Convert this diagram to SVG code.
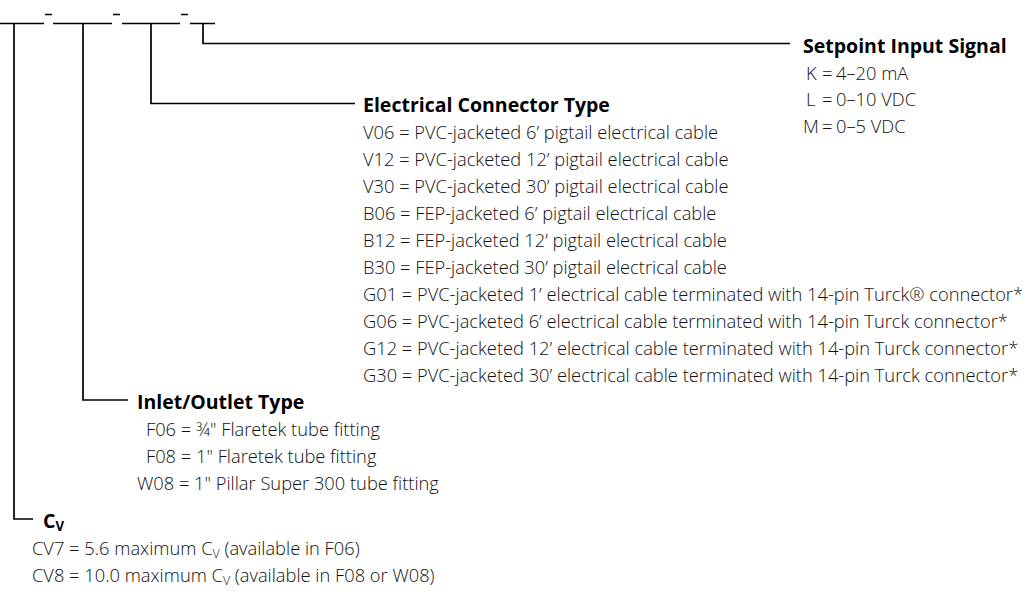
<svg xmlns="http://www.w3.org/2000/svg" width="1030" height="592" viewBox="0 0 1030 592">
<style>
.ln{stroke:#000;stroke-width:1.7;fill:none}
.h{font-family:"Open Sans","Liberation Sans",sans-serif;font-weight:bold;font-size:19.5px;fill:#000}
.t{font-family:"Open Sans","Liberation Sans",sans-serif;font-weight:300;font-size:18.3px;fill:#111}
.sub{font-size:68%}
</style>
<rect width="1030" height="592" fill="#fff"/>
<g id="code-line">
<path class="ln" d="M0,23.5H44M53,23.5H112M122,23.5H180M190,23.5H215"/>
<path class="ln" d="M45,14.5H52M113,14.5H120M181,14.5H188"/>
</g>
<g id="connectors">
<path class="ln" d="M203,23.5V43.5H790"/>
<path class="ln" d="M151,23.5V103.5H355"/>
<path class="ln" d="M83,23.5V400H128"/>
<path class="ln" d="M14,23.5V519H33"/>
</g>
<g id="setpoint">
<text class="h" x="803" y="53">Setpoint Input Signal</text>
<text class="t" x="806" y="80">K</text><text class="t" x="822" y="80">=</text><text class="t" x="836" y="80">4–20 mA</text>
<text class="t" x="806" y="106">L</text><text class="t" x="822" y="106">=</text><text class="t" x="836" y="106">0–10 VDC</text>
<text class="t" x="803" y="133">M</text><text class="t" x="822" y="133">=</text><text class="t" x="836" y="133">0–5 VDC</text>
</g>
<g id="electrical">
<text class="h" x="363" y="112">Electrical Connector Type</text>
<text class="t" x="363" y="139">V06 = PVC-jacketed 6’ pigtail electrical cable</text>
<text class="t" x="363" y="166">V12 = PVC-jacketed 12’ pigtail electrical cable</text>
<text class="t" x="363" y="193">V30 = PVC-jacketed 30’ pigtail electrical cable</text>
<text class="t" x="363" y="220">B06 = FEP-jacketed 6’ pigtail electrical cable</text>
<text class="t" x="363" y="247">B12 = FEP-jacketed 12’ pigtail electrical cable</text>
<text class="t" x="363" y="274">B30 = FEP-jacketed 30’ pigtail electrical cable</text>
<text class="t" x="363" y="301">G01 = PVC-jacketed 1’ electrical cable terminated with 14-pin Turck® connector*</text>
<text class="t" x="363" y="328">G06 = PVC-jacketed 6’ electrical cable terminated with 14-pin Turck connector*</text>
<text class="t" x="363" y="355">G12 = PVC-jacketed 12’ electrical cable terminated with 14-pin Turck connector*</text>
<text class="t" x="363" y="382">G30 = PVC-jacketed 30’ electrical cable terminated with 14-pin Turck connector*</text>
</g>
<g id="inlet-outlet">
<text class="h" x="137" y="409">Inlet/Outlet Type</text>
<text class="t" x="146" y="436">F06 = ¾" Flaretek tube fitting</text>
<text class="t" x="146" y="463">F08 = 1" Flaretek tube fitting</text>
<text class="t" x="137" y="490">W08 = 1" Pillar Super 300 tube fitting</text>
</g>
<g id="cv">
<text class="h" x="43" y="528">C<tspan class="sub" dy="3">V</tspan></text>
<text class="t" x="32" y="555">CV7 = 5.6 maximum C<tspan class="sub" dy="3">V</tspan><tspan dy="-3"> (available in F06)</tspan></text>
<text class="t" x="32" y="582">CV8 = 10.0 maximum C<tspan class="sub" dy="3">V</tspan><tspan dy="-3"> (available in F08 or W08)</tspan></text>
</g>
</svg>
